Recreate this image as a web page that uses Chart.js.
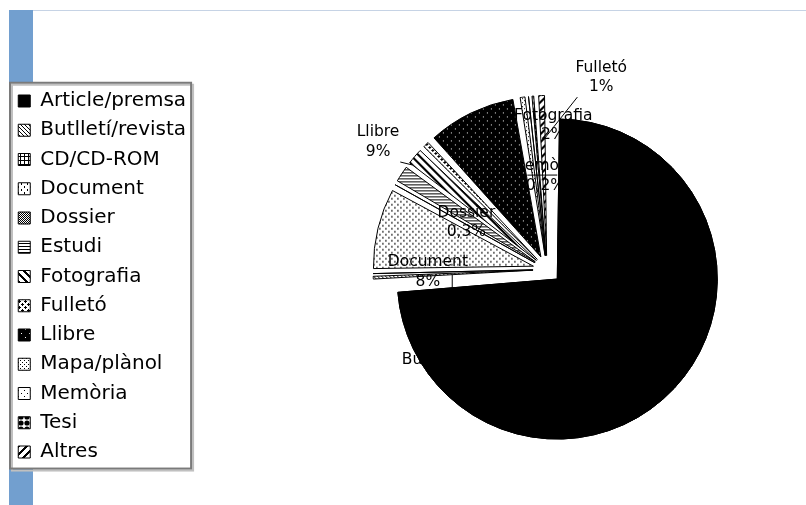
<!DOCTYPE html>
<html>
<head>
<meta charset="utf-8">
<script src="https://cdn.jsdelivr.net/npm/chart.js@4.4.1/dist/chart.umd.min.js"></script>
<style>
html,body{margin:0;padding:0;background:#fff;overflow:hidden;width:806px;height:505px}
.topline{position:absolute;left:33px;top:10px;width:773px;height:1px;background:#c6d3e5}
.bar{position:absolute;left:9px;top:10px;width:24px;height:495px;background:#729fcf}
#wrap{position:absolute;left:0;top:0;width:898px;height:505px}
</style>
</head>
<body>
<div class="topline"></div>
<div class="bar"></div>
<div id="wrap"><canvas id="pie"></canvas></div>
<script>
// Dades
const categories = ['Article/premsa','Butlletí/revista','CD/CD-ROM','Document','Dossier','Estudi','Fotografia','Fulletó','Llibre','Mapa/plànol','Memòria','Tesi','Altres'];
const shares = [73.9, 0.7, 0.05, 8.3, 0.3, 2.0, 2.0, 1.0, 9.05, 0.9, 0.2, 0.6, 1.0];

// Trames (estil Excel en blanc i negre)
function pattern(w, h, bg, fg, paint) {
    const c = document.createElement('canvas');
    c.width = w; c.height = h;
    const g = c.getContext('2d');
    g.fillStyle = bg; g.fillRect(0, 0, w, h);
    g.fillStyle = fg;
    paint(g, w, h);
    return g.createPattern(c, 'repeat');
}
const px = (g, pts) => pts.forEach(([x, y]) => g.fillRect(x, y, 1, 1));

const fills = [
    '#000',
    pattern(4, 4, '#fff', '#000', g => px(g, [[0,0],[1,1],[2,2],[3,3]])),
    pattern(4, 4, '#fff', '#000', g => { g.fillRect(0,0,4,1); g.fillRect(0,0,1,4); }),
    pattern(6, 6, '#fff', '#000', g => { g.fillRect(0,0,1,2); g.fillRect(3,3,1,2); }),
    pattern(2, 2, '#fff', '#000', g => px(g, [[0,0],[1,1]])),
    pattern(4, 3, '#fff', '#000', g => g.fillRect(0,0,4,1)),
    pattern(8, 8, '#fff', '#000', g => { for (let i=0;i<8;i++) for (let k=0;k<3;k++) g.fillRect((i+k)%8, i, 1, 1); }),
    pattern(6, 6, '#fff', '#000', g => px(g, [[1,0],[0,1],[1,1],[2,1],[1,2],[4,3],[3,4],[4,4],[5,4],[4,5]])),
    pattern(8, 8, '#000', '#fff', g => px(g, [[1,1],[5,5]])),
    pattern(4, 4, '#fff', '#000', g => px(g, [[0,0],[2,2]])),
    pattern(6, 6, '#fff', '#000', g => px(g, [[0,0],[3,3]])),
    pattern(6, 6, '#fff', '#000', g => { g.beginPath(); g.arc(3,3,2.6,0,Math.PI*2); g.fill(); }),
    pattern(8, 8, '#fff', '#000', g => { for (let i=0;i<8;i++) for (let k=0;k<3;k++) g.fillRect((15-i+k)%8, i, 1, 1); })
];

// Etiquetes: [index, angle (graus), distància relativa al radi], mesurat des del vèrtex de la porció gran
const labelSpots = [[1,227.4,0.84],[3,273.1,0.81],[4,302,0.67],[6,358.5,0.96],[7,12.3,1.29],[8,307.4,1.41],[10,353.4,0.65]];
const leaders = [[6.3,1.144,354.25,0.873],[343.9,0.676,0,0.65],[306.7,1.224,308.2,1.153],[272.2,0.657,265.1,0.659]];

const PIE_R = 160;
const EXPLODE = 56;
const LEGEND_TITLE_H = 15.75;
const total = shares.reduce((a, b) => a + b, 0);
function pct(v) {
    const p = v / total * 100;
    return (p < 1 ? p.toFixed(1).replace('.', ',') : Math.round(p)) + '%';
}

const frame = {
    id: 'frame',
    beforeDraw(chart) {
        const {ctx, legend} = chart;
        const top = legend.top + LEGEND_TITLE_H;
        const h = legend.columnSizes[0].height + legend.options.labels.padding * 0.6;
        ctx.save();
        ctx.fillStyle = '#fff';
        ctx.fillRect(legend.left + 1, top + 1, legend.width - 6, h);
        ctx.strokeStyle = '#c0c0c0';
        ctx.lineWidth = 2;
        ctx.strokeRect(legend.left + 3, top + 3, legend.width - 6, h);
        ctx.strokeStyle = '#7a7a7a';
        ctx.strokeRect(legend.left + 1, top + 1, legend.width - 6, h);
        ctx.restore();
    }
};

// les porcions desplaçades han de mantenir el mateix radi
const sameRadius = {
    id: 'sameRadius',
    beforeDatasetsDraw(chart) {
        chart.getDatasetMeta(0).data.forEach(arc => {
            const off = (arc.options.offset || 0) / 4;
            const fix = 1 - Math.sin(Math.min(Math.PI, arc.circumference || 0));
            arc.outerRadius = PIE_R - off * fix;
        });
    }
};

const pieLabels = {
    id: 'pieLabels',
    afterDatasetsDraw(chart) {
        const {ctx} = chart;
        const main = chart.getDatasetMeta(0).data[0];
        const half = (main.startAngle + main.endAngle) / 2;
        const off = (main.options.offset || 0) / 4;
        const cx = main.x + Math.cos(half) * off, cy = main.y + Math.sin(half) * off, r = PIE_R;
        const at = (a, f) => [cx + r * f * Math.sin(a * Math.PI / 180), cy - r * f * Math.cos(a * Math.PI / 180)];
        ctx.save();
        ctx.strokeStyle = '#000';
        ctx.lineWidth = 1;
        leaders.forEach(([a1, f1, a2, f2]) => {
            const p = at(a1, f1), q = at(a2, f2);
            ctx.beginPath(); ctx.moveTo(p[0], p[1]); ctx.lineTo(q[0], q[1]); ctx.stroke();
        });
        ctx.fillStyle = '#000';
        ctx.font = '15.5px "DejaVu Sans"';
        ctx.textAlign = 'center';
        ctx.textBaseline = 'middle';
        labelSpots.forEach(([i, a, f]) => {
            const [x, y] = at(a, f);
            ctx.fillText(categories[i], x, y - 9.75);
            ctx.fillText(pct(shares[i]), x, y + 9.75);
        });
        ctx.restore();
        main.draw(ctx);
    }
};

new Chart(document.getElementById('pie'), {
    type: 'pie',
    data: {
        labels: categories,
        datasets: [{
            data: shares,
            backgroundColor: fills,
            borderColor: '#000',
            borderWidth: 1,
            offset: EXPLODE,
            radius: PIE_R
        }]
    },
    options: {
        responsive: true,
        maintainAspectRatio: false,
        animation: false,
        events: [],
        layout: {padding: {left: 9, top: 66, bottom: 32, right: 0}},
        plugins: {
            tooltip: {enabled: false},
            legend: {
                position: 'left',
                align: 'start',
                title: {display: true, text: '', font: {size: 1, lineHeight: 1}, padding: {top: LEGEND_TITLE_H - 1, bottom: 0}},
                labels: {
                    boxWidth: 12, boxHeight: 12, padding: 9.25, color: '#000',
                    font: {family: 'DejaVu Sans', size: 20}
                }
            }
        }
    },
    plugins: [frame, sameRadius, pieLabels]
});
</script>
</body>
</html>
